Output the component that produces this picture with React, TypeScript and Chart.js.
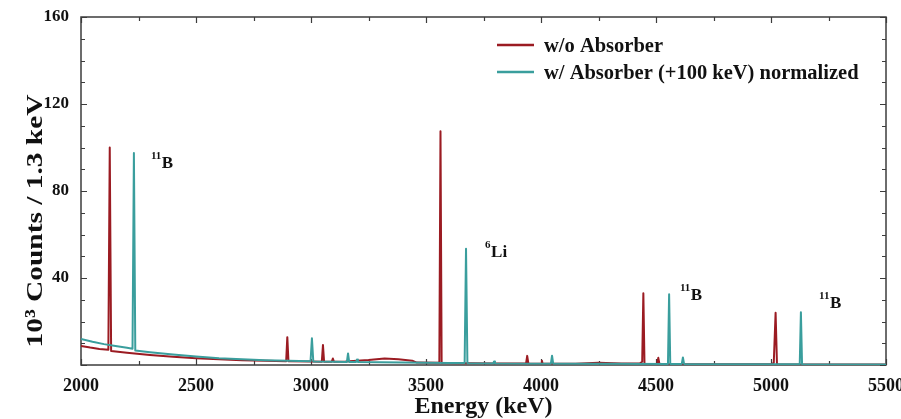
import React, { useEffect, useRef } from "react";
import { Chart, registerables } from "chart.js";

Chart.register(...registerables);

// ---- data ----
const xTickValues = [2000, 2500, 3000, 3500, 4000, 4500, 5000, 5500];
const yTickValues = [0, 40, 80, 120, 160];
const seriesLabels = ["w/o Absorber", "w/ Absorber (+100 keV) normalized"];
const yTitle = "10³ Counts / 1.3 keV";
const xTitle = "Energy (keV)";

// energy (keV) / counts (10^3 per 1.3 keV) for the spectrum without absorber
const redEnergy = [
  2000, 2040, 2080, 2119, 2125, 2131, 2200, 2300, 2400, 2500, 2600, 2700, 2800,
  2892, 2897, 2902, 3000, 3047, 3052, 3057, 3090, 3095, 3100, 3150, 3250, 3320,
  3380, 3440, 3460, 3558, 3563, 3568, 3700, 3800, 3935, 3940, 3945, 4001, 4004,
  4007, 4150, 4250, 4350, 4430, 4440, 4445, 4450, 4505, 4510, 4515, 4700, 5000,
  5012, 5020, 5026, 5500,
];
const redCounts = [
  8.8, 8.0, 7.4, 7.0, 100, 6.4, 5.6, 4.6, 3.8, 3.1, 2.6, 2.2, 1.9,
  1.7, 12.8, 1.7, 1.6, 1.5, 9.2, 1.5, 1.5, 3.0, 1.5, 1.6, 2.3, 3.0,
  2.6, 2.0, 1.1, 1.0, 107.5, 0.9, 0.8, 0.7, 0.7, 4.2, 0.7, 0.6, 2.0,
  0.6, 0.6, 1.0, 0.7, 0.8, 1.5, 33, 0.6, 0.5, 3.3, 0.5, 0.4, 0.4,
  0.9, 24, 0.3, 0.2,
];

// energy (keV) / counts for the spectrum with absorber (+100 keV, normalized)
const tealEnergy = [
  2000, 2050, 2100, 2150, 2200, 2224, 2230, 2236, 2300, 2400, 2500, 2600, 2700,
  2800, 2900, 2998, 3004, 3010, 3100, 3156, 3161, 3166, 3196, 3200, 3204, 3300,
  3400, 3500, 3600, 3668, 3674, 3680, 3792, 3796, 3800, 4043, 4048, 4053, 4300,
  4552, 4557, 4562, 4612, 4617, 4622, 5125, 5130, 5135, 5500,
];
const tealCounts = [
  12.0, 10.7, 9.6, 8.7, 7.9, 7.5, 97.5, 6.7, 5.9, 4.8, 3.9, 3.1, 2.6,
  2.2, 1.9, 1.7, 12.3, 1.6, 1.5, 1.4, 5.3, 1.4, 1.4, 2.5, 1.4, 1.3,
  1.2, 1.0, 0.9, 0.9, 53.5, 0.8, 0.7, 1.6, 0.7, 0.6, 4.3, 0.6, 0.6,
  0.5, 32.5, 0.5, 0.5, 3.5, 0.5, 0.4, 24.2, 0.4, 0.2,
];

// peak annotations: mass number, element, anchor energy, anchor counts
const peakMass = ["11", "6", "11", "11"];
const peakElement = ["B", "Li", "B", "B"];
const peakEnergy = [2304, 3757, 4604, 5209];
const peakCounts = [90.6, 49.7, 29.9, 26.2];

const RED = "#9b1b22";
const TEAL = "#3a9e9d";
const AXIS = "#3c3c3c";
const SERIF = "'Liberation Serif', 'Times New Roman', serif";

const toPoints = (xs: number[], ys: number[]) => xs.map((x, i) => ({ x, y: ys[i] }));

const decorPlugin = {
  id: "decor",
  beforeDatasetsDraw(chart: any) {
    const { ctx, chartArea: a, scales } = chart;
    const x = scales.x;
    const y = scales.y;
    ctx.save();
    ctx.strokeStyle = AXIS;
    ctx.lineWidth = 1.5;
    ctx.strokeRect(a.left, a.top, a.right - a.left, a.bottom - a.top);
    ctx.lineWidth = 1.2;
    ctx.beginPath();
    for (let v = x.min; v <= x.max; v += 250) {
      const px = Math.round(x.getPixelForValue(v)) + 0.5;
      const len = v % 500 === 0 ? 6 : 4;
      ctx.moveTo(px, a.bottom);
      ctx.lineTo(px, a.bottom - len);
      ctx.moveTo(px, a.top);
      ctx.lineTo(px, a.top + len);
    }
    for (let v = y.min; v <= y.max; v += 10) {
      const py = Math.round(y.getPixelForValue(v)) + 0.5;
      const len = v % 40 === 0 ? 6 : 4;
      ctx.moveTo(a.left, py);
      ctx.lineTo(a.left + len, py);
      ctx.moveTo(a.right, py);
      ctx.lineTo(a.right - len, py);
    }
    ctx.stroke();

    // y axis title (slightly stretched along its length, like the reference)
    ctx.fillStyle = "#111";
    ctx.font = `bold 24px ${SERIF}`;
    ctx.textAlign = "center";
    ctx.textBaseline = "middle";
    const w = ctx.measureText(yTitle).width;
    ctx.translate(36, (a.top + a.bottom) / 2 + 30);
    ctx.rotate(-Math.PI / 2);
    ctx.scale(253 / w, 1);
    ctx.fillText(yTitle, 0, 0);
    ctx.restore();
  },
  afterDatasetsDraw(chart: any) {
    const { ctx, chartArea: a, scales } = chart;
    const x = scales.x;
    const y = scales.y;
    ctx.save();
    ctx.fillStyle = "#111";
    ctx.textBaseline = "alphabetic";
    ctx.textAlign = "left";
    peakMass.forEach((m, i) => {
      const px = x.getPixelForValue(peakEnergy[i]);
      const py = y.getPixelForValue(peakCounts[i]);
      ctx.font = `bold 11px ${SERIF}`;
      ctx.fillText(m, px, py - 9);
      const w = ctx.measureText(m).width;
      ctx.font = `bold 17px ${SERIF}`;
      ctx.fillText(peakElement[i], px + w + 0.5, py);
    });

    // legend
    const colors = [RED, TEAL];
    const lx0 = a.right - 389;
    const lx1 = a.right - 352;
    const rows = [a.top + 28, a.top + 55];
    ctx.font = `bold 20.5px ${SERIF}`;
    ctx.textBaseline = "middle";
    seriesLabels.forEach((lab, i) => {
      ctx.strokeStyle = colors[i];
      ctx.lineWidth = 2.5;
      ctx.beginPath();
      ctx.moveTo(lx0, rows[i]);
      ctx.lineTo(lx1, rows[i]);
      ctx.stroke();
      ctx.fillStyle = "#111";
      ctx.fillText(lab, lx1 + 10, rows[i] + 2);
    });
    ctx.restore();
  },
};

export default function App() {
  const ref = useRef<HTMLCanvasElement | null>(null);
  useEffect(() => {
    if (!ref.current) return;
    const chart = new Chart(ref.current, {
      type: "line",
      data: {
        datasets: [
          {
            label: seriesLabels[0],
            data: toPoints(redEnergy, redCounts),
            borderColor: RED,
            borderWidth: 2,
            borderJoinStyle: "round",
            pointRadius: 0,
            tension: 0,
            order: 2,
          },
          {
            label: seriesLabels[1],
            data: toPoints(tealEnergy, tealCounts),
            borderColor: TEAL,
            borderWidth: 2,
            borderJoinStyle: "round",
            pointRadius: 0,
            tension: 0,
            order: 1,
          },
        ],
      },
      options: {
        responsive: false,
        animation: false,
        devicePixelRatio: 1,
        parsing: false as any,
        layout: { padding: { top: 17, right: 15, left: 0, bottom: 0 } },
        plugins: { legend: { display: false }, tooltip: { enabled: false } },
        scales: {
          x: {
            type: "linear",
            min: 2000,
            max: 5500,
            grid: { display: false, drawTicks: false },
            border: { display: false },
            afterBuildTicks: (s: any) => {
              s.ticks = xTickValues.map((v) => ({ value: v }));
            },
            afterFit: (s: any) => {
              s.height = 54;
              s.paddingLeft = 0;
              s.paddingRight = 0;
            },
            ticks: {
              color: "#111",
              padding: 11,
              maxRotation: 0,
              autoSkip: false,
              callback: (v: any) => String(v),
              font: { family: SERIF, size: 18, weight: "bold" },
            },
            title: {
              display: true,
              text: xTitle,
              color: "#111",
              padding: { top: 0, bottom: 0 },
              font: { family: SERIF, size: 24, weight: "bold", lineHeight: 1 },
            },
          },
          y: {
            type: "linear",
            min: 0,
            max: 160,
            grid: { display: false, drawTicks: false },
            border: { display: false },
            afterBuildTicks: (s: any) => {
              s.ticks = yTickValues.map((v) => ({ value: v }));
            },
            afterFit: (s: any) => {
              s.width = 81;
              s.paddingTop = 0;
              s.paddingBottom = 0;
            },
            ticks: {
              color: "#111",
              padding: 12,
              autoSkip: false,
              callback: (v: any) => (v === 0 ? "" : String(v)),
              font: { family: SERIF, size: 17, weight: "bold" },
            },
            title: { display: false },
          },
        },
      },
      plugins: [decorPlugin],
    });
    return () => chart.destroy();
  }, []);
  return (
    <div style={{ position: "absolute", left: 0, top: 0, width: 901, height: 419, background: "#fff" }}>
      <canvas ref={ref} width={901} height={419} style={{ display: "block" }} />
    </div>
  );
}
